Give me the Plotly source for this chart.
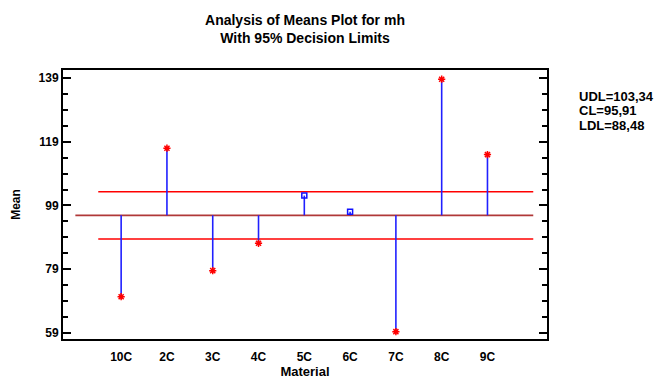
import plotly.graph_objects as go

categories = ["10C", "2C", "3C", "4C", "5C", "6C", "7C", "8C", "9C"]
means = [70.3, 117.0, 78.5, 87.1, 102.1, 97.0, 59.3, 138.7, 115.0]
UDL = 103.34
CL = 95.91
LDL = 88.48
y_ticks = [59, 79, 99, 119, 139]

FONT = "Arial, Liberation Sans, sans-serif"
xpos = list(range(1, len(categories) + 1))

fig = go.Figure()

# limit lines
fig.add_trace(go.Scatter(x=[0.5, 10], y=[UDL, UDL], mode="lines",
                         line=dict(color="#ff0000", width=1.5), hoverinfo="skip"))
fig.add_trace(go.Scatter(x=[0.5, 10], y=[LDL, LDL], mode="lines",
                         line=dict(color="#ff0000", width=1.5), hoverinfo="skip"))
fig.add_trace(go.Scatter(x=[0, 10], y=[CL, CL], mode="lines",
                         line=dict(color="#b03838", width=1.8), hoverinfo="skip"))

# stems
sx, sy = [], []
for xp, m in zip(xpos, means):
    sx += [xp, xp, None]
    sy += [CL, m, None]
fig.add_trace(go.Scatter(x=sx, y=sy, mode="lines",
                         line=dict(color="#2020ff", width=1.6), hoverinfo="skip"))

inside = [(xp, m) for xp, m in zip(xpos, means) if LDL <= m <= UDL]
outside = [(xp, m) for xp, m in zip(xpos, means) if not (LDL <= m <= UDL)]

fig.add_trace(go.Scatter(x=[p[0] for p in inside], y=[p[1] for p in inside], mode="markers",
                         marker=dict(symbol="square-open", size=5, color="#1010ff",
                                     line=dict(width=1.5, color="#1010ff"))))
fig.add_trace(go.Scatter(x=[p[0] for p in outside], y=[p[1] for p in outside], mode="markers",
                         marker=dict(symbol="asterisk-open", size=6, color="#ff0000",
                                     line=dict(width=1.5, color="#ff0000"))))

fig.update_layout(
    width=664, height=380,
    margin=dict(l=63, r=117, t=70, b=41),
    paper_bgcolor="white", plot_bgcolor="white",
    showlegend=False,
    font=dict(family=FONT, size=12, color="black"),
    title=dict(text="<b>Analysis of Means Plot for mh<br>With 95% Decision Limits</b>",
               x=(63 + 547) / 2 / 664, xanchor="center", y=1 - 25 / 380, yanchor="top",
               automargin=False,
               font=dict(family=FONT, size=14, color="black")),
)

fig.update_xaxes(
    range=[-0.27, 10.3], tickmode="array", tickvals=xpos,
    ticktext=[f"<b>{c}</b>" for c in categories],
    showline=True, linecolor="black", linewidth=2, mirror=True, automargin=False,
    showgrid=False, zeroline=False, ticks="", ticklabelstandoff=6,
    tickfont=dict(family=FONT, size=12),
    title=dict(text="<b>Material</b>", font=dict(family=FONT, size=13), standoff=2),
)
fig.update_yaxes(
    range=[57.0, 141.6], tickmode="array", tickvals=y_ticks,
    ticktext=[f"<b>{v}</b>" for v in y_ticks], automargin=False,
    showline=True, linecolor="black", linewidth=2, mirror="ticks",
    showgrid=False, zeroline=False, ticks="inside", ticklen=8, tickwidth=1.5, tickcolor="black",
    minor=dict(tickmode="linear", tick0=59, dtick=5, ticks="inside", ticklen=5, tickwidth=1.5,
               tickcolor="black", showgrid=False),
    tickfont=dict(family=FONT, size=12),
    title=dict(text="<b>Mean</b>", font=dict(family=FONT, size=12), standoff=15),
)

labels = [f"UDL={UDL:.2f}".replace(".", ","), f"CL={CL:.2f}".replace(".", ","),
          f"LDL={LDL:.2f}".replace(".", ",")]
for i, t in enumerate(labels):
    fig.add_annotation(text=f"<b>{t}</b>", xref="paper", yref="paper",
                       x=(577 - 63) / (547 - 63), xanchor="left",
                       y=(339 - (96 + 14.5 * i)) / (339 - 70), yanchor="middle",
                       showarrow=False, font=dict(family=FONT, size=13, color="black"))

fig.write_html("out.html")
